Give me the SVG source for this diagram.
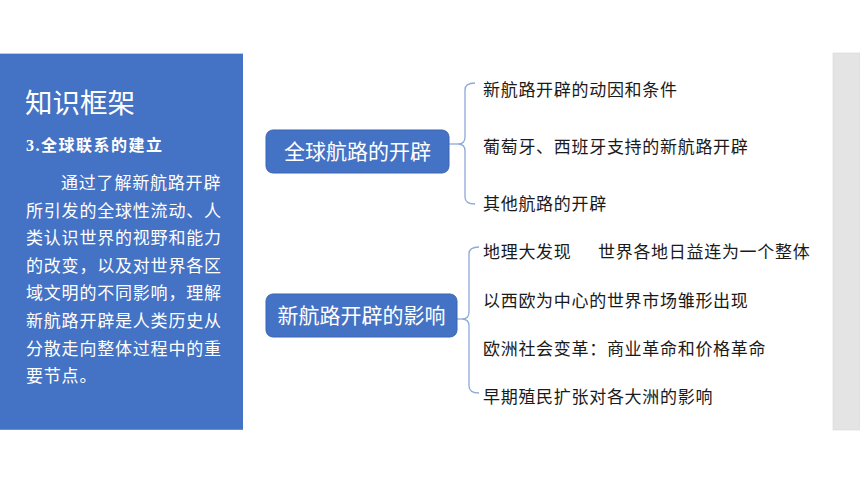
<svg xmlns="http://www.w3.org/2000/svg" width="860" height="484" viewBox="0 0 860 484">
<style>
.panel{fill:#4472C4}
.body{font-family:"Noto Sans CJK SC","Noto Sans",sans-serif;font-size:17px;letter-spacing:0.8px;fill:#ffffff}
.box{fill:#4472C4;stroke:#3B65B5;stroke-width:1}
.boxt{font-family:"Noto Sans CJK SC","Noto Sans",sans-serif;font-size:21px;fill:#ffffff;text-anchor:middle}
.item{font-family:"Noto Sans CJK SC","Noto Sans",sans-serif;font-size:17px;letter-spacing:0.7px;fill:#1a1a1a}
.brace{fill:none;stroke:#8EAADB;stroke-width:1.3}
</style>
<rect width="860" height="484" fill="#ffffff"/>
<g id="left-panel">
<rect x="0" y="53" width="243" height="1" fill="#C8C8C8"/>
<rect class="panel" x="0" y="54" width="243" height="376"/>
<rect x="0" y="429" width="243" height="1" fill="#6F8FCF"/>
<text x="25" y="113" font-family="'Noto Sans CJK SC','Noto Sans',sans-serif" font-size="27.5" fill="#ffffff">知识框架</text>
<text x="26" y="151" font-family="'Liberation Serif','Noto Sans CJK SC',serif" font-size="16" font-weight="bold" letter-spacing="1.5" fill="#ffffff">3.全球联系的建立</text>
<text class="body" x="61" y="189">通过了解新航路开辟</text>
<text class="body" x="26" y="217">所引发的全球性流动、人</text>
<text class="body" x="26" y="244">类认识世界的视野和能力</text>
<text class="body" x="26" y="272">的改变，以及对世界各区</text>
<text class="body" x="26" y="299">域文明的不同影响，理解</text>
<text class="body" x="26" y="327">新航路开辟是人类历史从</text>
<text class="body" x="26" y="355">分散走向整体过程中的重</text>
<text class="body" x="26" y="382">要节点。</text>
</g>
<g id="side-strip">
<rect x="833" y="53" width="27" height="377" fill="#E4E4E4" stroke="#D8D8D8" stroke-width="0.6"/>
</g>
<g id="connectors">
<path class="brace" d="M475,83 Q465,83 465,90 V137 Q465,144 458,144 Q465,144 465,151 V197 Q465,204 475,204"/>
<path class="brace" d="M449,144 H458"/>
<path class="brace" d="M479,247 Q469,247 469,254 V312 Q469,319 462,319 Q469,319 469,326 V386 Q469,393 479,393"/>
<path class="brace" d="M457,319 H462"/>
</g>
<g id="node-global-routes">
<rect class="box" x="266" y="130" width="183" height="43" rx="7"/>
<text class="boxt" x="357.5" y="159">全球航路的开辟</text>
</g>
<g id="node-impact">
<rect class="box" x="266" y="294" width="191" height="43" rx="7"/>
<text class="boxt" x="361.5" y="323">新航路开辟的影响</text>
</g>
<g id="item-1"><text class="item" x="483" y="96">新航路开辟的动因和条件</text></g>
<g id="item-2"><text class="item" x="483" y="153">葡萄牙、西班牙支持的新航路开辟</text></g>
<g id="item-3"><text class="item" x="483" y="210">其他航路的开辟</text></g>
<g id="item-4"><text class="item" x="483" y="258">地理大发现<tspan x="598">世界各地日益连为一个整体</tspan></text></g>
<g id="item-5"><text class="item" x="483" y="307">以西欧为中心的世界市场雏形出现</text></g>
<g id="item-6"><text class="item" x="483" y="355">欧洲社会变革：商业革命和价格革命</text></g>
<g id="item-7"><text class="item" x="483" y="403">早期殖民扩张对各大洲的影响</text></g>
</svg>
